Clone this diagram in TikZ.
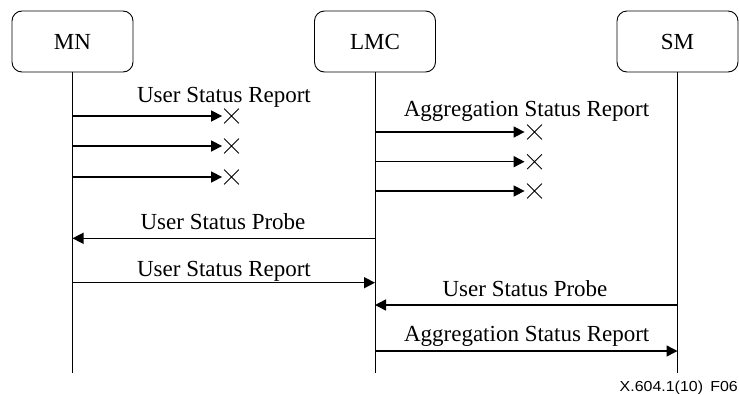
\documentclass[tikz,border=0pt]{standalone}
\usepackage{fontspec}
\setmainfont{Liberation Serif}
\newfontfamily\figlabelfont{Liberation Sans}[FakeStretch=1.1]
\usetikzlibrary{arrows.meta,shapes.misc}
\begin{document}
\begin{tikzpicture}[x=1pt,y=-1pt,
  entity/.style={draw, rounded corners=10pt, minimum width=121pt, minimum height=61pt,
    line width=0.9pt, font=\fontsize{23}{27}\selectfont, inner sep=0pt},
  life/.style={line width=0.9pt},
  msg/.style={line width=1.5pt, -{Triangle[length=11pt,width=11pt]}},
  lbl/.style={font=\fontsize{23}{27}\selectfont, anchor=base, inner sep=0pt},
  lost/.style={cross out, draw, line width=0.8pt, minimum size=14pt, inner sep=0pt}]
\useasboundingbox (0,0) rectangle (739,394);
% entities
\node[entity] (mn)  at (72.5,41.5) {MN};
\node[entity] (lmc) at (375,41.5) {LMC};
\node[entity] (sm)  at (677.5,41.5) {SM};
% lifelines
\coordinate (mnEnd)  at (72.5,373);
\coordinate (lmcEnd) at (375,373);
\coordinate (smEnd)  at (677.5,373);
\draw[life] (mn.south) -- (mnEnd);
\draw[life] (lmc.south) -- (lmcEnd);
\draw[life] (sm.south) -- (smEnd);
% lost messages MN
\coordinate (a1) at (72.5,116);
\coordinate (a2) at (72.5,146);
\coordinate (a3) at (72.5,177);
\node[lost] (xa1) at (231.5,116) {};
\node[lost] (xa2) at (231.5,146) {};
\node[lost] (xa3) at (231.5,177) {};
\draw[msg, shorten >=2pt] (a1) -- (xa1.west);
\draw[msg, shorten >=2pt] (a2) -- (xa2.west);
\draw[msg, shorten >=2pt] (a3) -- (xa3.west);
\node[lbl] (t1) at (224,102.7) {User Status Report};
% lost messages LMC
\coordinate (b1) at (375,132);
\coordinate (b2) at (375,161.7);
\coordinate (b3) at (375,191);
\node[lost] (xb1) at (534.5,132) {};
\node[lost] (xb2) at (534.5,161.7) {};
\node[lost] (xb3) at (534.5,191) {};
\draw[msg, shorten >=2.5pt] (b1) -- (xb1.west);
\draw[msg, shorten >=2.5pt] (b2) -- (xb2.west);
\draw[msg, shorten >=2.5pt] (b3) -- (xb3.west);
\node[lbl] (t2) at (526.5,116) {Aggregation Status Report};
% probe LMC -> MN
\coordinate (c1) at (375,238.3);
\coordinate (c2) at (72.5,238.3);
\draw[msg] (c1) -- (c2);
\node[lbl] (t3) at (223,229.3) {User Status Probe};
% report MN -> LMC
\coordinate (d1) at (72.5,282.7);
\coordinate (d2) at (375,282.7);
\draw[msg] (d1) -- (d2);
\node[lbl] (t4) at (224,276.7) {User Status Report};
% probe SM -> LMC
\coordinate (e1) at (677.5,305);
\coordinate (e2) at (375,305);
\draw[msg] (e1) -- (e2);
\node[lbl] (t5) at (525,296.7) {User Status Probe};
% aggregation LMC -> SM
\coordinate (f1) at (375,351);
\coordinate (f2) at (677.5,351);
\draw[msg] (f1) -- (f2);
\node[lbl] (t6) at (526.7,341.7) {Aggregation Status Report};
% figure label
\node[anchor=base east, inner sep=0pt, font=\figlabelfont\fontsize{14.5}{17}\selectfont] (fig) at (738,391) {X.604.1(10)\hspace{0.5em}F06};
\end{tikzpicture}
\end{document}
